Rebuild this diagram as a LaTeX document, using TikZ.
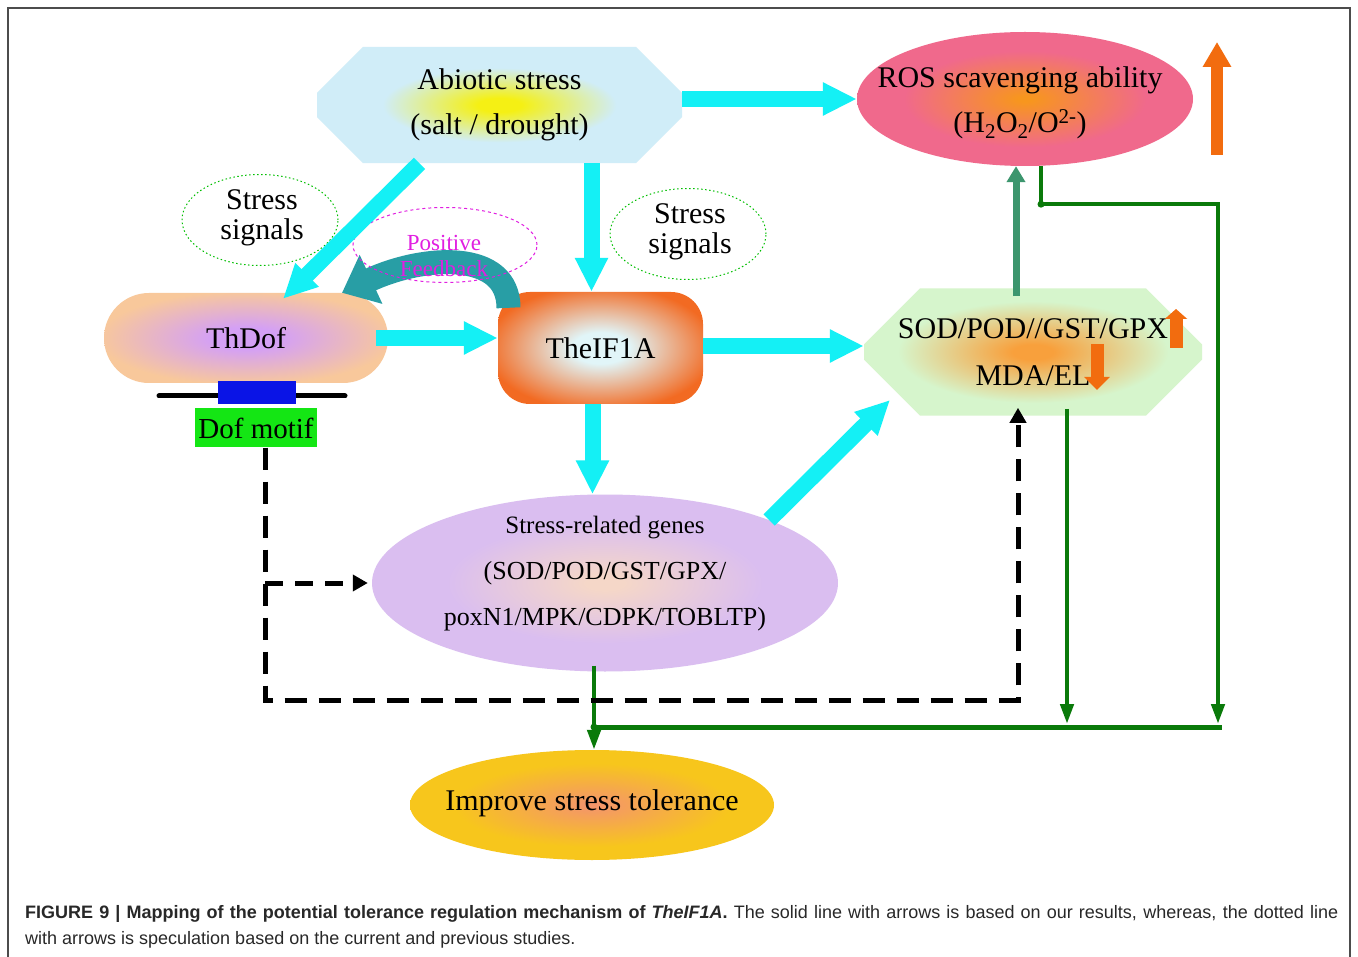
\documentclass[tikz,border=0pt]{standalone}
\usepackage{fontspec}
\setmainfont{Liberation Serif}
\newfontfamily\capfont{Liberation Sans}
\usetikzlibrary{shapes.geometric,shapes.misc,arrows.meta,calc}

\definecolor{cy}{RGB}{20,240,245}
\definecolor{abblue}{RGB}{208,237,248}
\definecolor{abyel}{RGB}{245,240,20}
\definecolor{rospink}{RGB}{240,105,140}
\definecolor{rosor}{RGB}{247,150,30}
\definecolor{peach}{RGB}{248,200,155}
\definecolor{lav}{RGB}{212,160,245}
\definecolor{ifor}{RGB}{242,106,34}
\definecolor{iflight}{RGB}{225,245,248}
\definecolor{sodgreen}{RGB}{214,245,204}
\definecolor{sodor}{RGB}{248,160,60}
\definecolor{genlav}{RGB}{218,190,240}
\definecolor{genpeach}{RGB}{245,215,200}
\definecolor{impyel}{RGB}{247,198,28}
\definecolor{impsal}{RGB}{244,150,105}
\definecolor{tealA}{RGB}{40,158,165}
\definecolor{dgreen}{RGB}{10,122,10}
\definecolor{sgreen}{RGB}{60,150,110}
\definecolor{orA}{RGB}{242,108,15}
\definecolor{motifgreen}{RGB}{20,230,20}
\definecolor{motifblue}{RGB}{10,20,230}
\definecolor{capgray}{RGB}{40,40,40}
\definecolor{pfmag}{RGB}{225,30,225}

\pgfdeclareradialshading{abshade}{\pgfpoint{0bp}{0bp}}{color(0bp)=(abyel); color(3bp)=(abyel); color(16bp)=(abblue); color(50bp)=(abblue)}
\pgfdeclareradialshading{rosshade}{\pgfpoint{0bp}{0bp}}{color(0bp)=(rosor); color(1bp)=(rosor); color(18bp)=(rospink); color(50bp)=(rospink)}
\pgfdeclareradialshading{dofshade}{\pgfpoint{0bp}{0bp}}{color(0bp)=(lav); color(6bp)=(lav); color(26bp)=(peach); color(50bp)=(peach)}
\pgfdeclareradialshading{ifshade}{\pgfpoint{0bp}{0bp}}{color(0bp)=(iflight); color(7bp)=(iflight); color(28bp)=(ifor); color(50bp)=(ifor)}
\pgfdeclareradialshading{sodshade}{\pgfpoint{0bp}{0bp}}{color(0bp)=(sodor); color(3bp)=(sodor); color(20bp)=(sodgreen); color(50bp)=(sodgreen)}
\pgfdeclareradialshading{genshade}{\pgfpoint{0bp}{0bp}}{color(0bp)=(genpeach); color(2bp)=(genpeach); color(17bp)=(genlav); color(50bp)=(genlav)}
\pgfdeclareradialshading{impshade}{\pgfpoint{0bp}{0bp}}{color(0bp)=(impsal); color(1bp)=(impsal); color(19bp)=(impyel); color(50bp)=(impyel)}

\begin{document}
\begin{tikzpicture}[x=1pt,y=-1pt,
  bigtxt/.style={font=\fontsize{30}{45}\selectfont, align=center, inner sep=0pt},
  sigell/.style={ellipse, draw=green!75!black, line width=1pt, dash pattern=on 1.5pt off 2.5pt, minimum width=156pt, minimum height=91pt, inner sep=0pt},
  sigtxt/.style={font=\fontsize{30}{30}\selectfont, align=center, inner sep=0pt},
  cyarr/.style={draw=cy, line width=16pt, -{Triangle[length=34pt,width=31pt]}},
  dgline/.style={draw=dgreen, line width=5pt},
  dgarr/.style={draw=dgreen, line width=4.5pt, -{Triangle[length=20pt,width=13pt]}},
  sgarr/.style={draw=sgreen, line width=7pt, -{Triangle[length=16pt,width=18pt]}},
  dsh/.style={draw=black, line width=5pt, dash pattern=on 22pt off 12pt},
  dtip/.style={-{Triangle[length=15pt,width=16pt]}}
]
\useasboundingbox (0,0) rectangle (1358,957);
\fill[white] (0,0) rectangle (1358,957);
\draw[gray!60!black, line width=1.2pt] (8,957) -- (8,8) -- (1350,8) -- (1350,957);

% ---- nodes ----
\node[chamfered rectangle, chamfered rectangle xsep=24pt, chamfered rectangle ysep=22pt,
      minimum width=365pt, minimum height=98pt, shade, shading=abshade, bigtxt] (ab) at (499.5,105)
      {Abiotic stress\\(salt / drought)};

\node[ellipse, minimum width=336pt, minimum height=134pt, inner sep=0pt, shade, shading=rosshade] (ros) at (1025,99) {};
\node[bigtxt] (rost) at (1020,103) {ROS scavenging ability\\(H\textsubscript{2}O\textsubscript{2}/O\textsuperscript{2-})};

\node[sigell] (sig1) at (260,220) {};
\node[sigtxt] (sig1t) at (262,218) {Stress\\signals};
\node[sigell] (sig2) at (688,234) {};
\node[sigtxt] (sig2t) at (690,232) {Stress\\signals};

\node[rounded rectangle, minimum width=284pt, minimum height=90pt, inner sep=0pt, shade, shading=dofshade, bigtxt] (thdof) at (246,338) {ThDof};

\node[rectangle, rounded corners=32pt, minimum width=205pt, minimum height=112pt, inner sep=0pt, shade, shading=ifshade, bigtxt] (ifa) at (600.5,348) {TheIF1A};

\node[chamfered rectangle, chamfered rectangle xsep=26pt, chamfered rectangle ysep=30pt,
      minimum width=338pt, minimum height=120pt, shade, shading=sodshade, font=\fontsize{30}{47}\selectfont, align=center, inner sep=0pt] (sod) at (1033,352)
      {SOD/POD//GST/GPX\\MDA/EL};

\node[ellipse, minimum width=466pt, minimum height=177pt, inner sep=0pt, shade, shading=genshade] (genes) at (605,583) {};
\node[align=center, inner sep=0pt, font=\fontsize{26}{46}\selectfont] (genest) at (605,574)
      {{\fontsize{25}{46}\selectfont Stress-related genes}\\(SOD/POD/GST/GPX/\\poxN1/MPK/CDPK/TOBLTP)};

\node[ellipse, minimum width=364pt, minimum height=110pt, inner sep=0pt, shade, shading=impshade] (imp) at (592,805) {};
\node[bigtxt] (impt) at (592,803) {Improve stress tolerance};

% DNA + motif
\draw[line width=5pt, line cap=round] (159,396) -- (345,396);
\node[fill=motifblue, minimum width=78pt, minimum height=23pt, inner sep=0pt] (blue) at (257,392.5) {};
\node[fill=motifgreen, minimum width=122pt, minimum height=39pt, inner sep=0pt, font=\fontsize{29}{30}\selectfont] (dof) at (256,428) {Dof motif};

% ---- positive feedback ----
\draw[line width=24pt, draw=tealA, -{Triangle[length=32pt,width=52pt]}]
  ([xshift=-92pt,yshift=-16pt]ifa.north) .. controls ++(0,-58) and ++(82,-38) .. ([xshift=96pt]thdof.north);
\node[ellipse, draw=pfmag, line width=1pt, dash pattern=on 3pt off 3pt, minimum width=184pt, minimum height=75pt, inner sep=0pt] (pf) at (445,245) {};
\node[text=pfmag, font=\fontsize{23}{26}\selectfont, align=center, inner sep=0pt] (pft) at (444,256) {Positive\\Feedback};

% ---- cyan arrows ----
\draw[cyarr] ([yshift=6pt]ab.east) -- ([yshift=6pt]ab.east -| ros.west);
\draw[cyarr] ([xshift=-80pt]ab.south) -- ([xshift=37pt,yshift=-6pt]thdof.north);
\draw[cyarr] ([xshift=92pt]ab.south) -- ([xshift=92pt]ab.south |- ifa.north);
\draw[cyarr] ([xshift=-12pt]thdof.east) -- (thdof.east -| ifa.west);
\draw[cyarr] ([yshift=2pt]ifa.east) -- ([yshift=2pt]ifa.east -| sod.west);
\draw[cyarr] ([xshift=-8pt]ifa.south) -- ([xshift=-8pt]ifa.south |- genes.north);
\draw[cyarr] (genes.21) -- ([xshift=-143pt,yshift=-48pt]sod.center);

% ---- orange arrows ----
\draw[draw=orA, line width=12pt, -{Triangle[length=25pt,width=27pt]}] (1217,155) -- (1217,42);
\draw[draw=orA, line width=13pt, -{Triangle[length=10pt,width=22pt]}] (1176,348) -- (1176,309);
\draw[draw=orA, line width=13pt, -{Triangle[length=13pt,width=25pt]}] (1097,344) -- (1097,390);

% ---- green connectors ----
\coordinate (busL) at (594,727);
\coordinate (busR) at (1222,727);
\draw[dgline] (busL) -- (busR);
\draw[sgarr] ([xshift=-17pt,yshift=-8pt]sod.north) -- ([xshift=-17pt]sod.north |- ros.south);
\draw[dgarr] ([xshift=16pt]ros.south) -- ++(0,38) coordinate (j1) -| ([xshift=-4pt,yshift=3pt]busR);
\fill[dgreen] (j1) circle (3.5pt);
\coordinate (b3) at ([xshift=34pt]sod.south |- busR);
\draw[dgarr] ([xshift=34pt,yshift=7pt]sod.south) -- ([yshift=3pt]b3);
\draw[dgarr] ([yshift=6pt]genes.south -| busL) -- (busL |- imp.north);
\fill[dgreen] (busL) circle (3.5pt);

% ---- dashed connectors ----
\coordinate (d0) at ([xshift=9pt]dof.south);
\coordinate (dbot) at (265,700);
\draw[dsh, dtip] (d0) -- (d0 |- dbot) -| ([xshift=-15pt,yshift=8pt]sod.south);
\draw[dsh, dtip, dash pattern=on 18pt off 12pt] (d0 |- genes.west) -- ([xshift=-4pt]genes.west);

% ---- caption ----
\node[anchor=base west, text width=1313pt, inner sep=0pt, align=justify, text=capgray,
      font=\capfont\fontsize{18}{26}\selectfont] (cap) at (25,918)
  {\textbf{FIGURE 9 | Mapping of the potential tolerance regulation mechanism of \textit{TheIF1A}.} The solid line with arrows is based on our results, whereas, the dotted line\linebreak with arrows is speculation based on the current and previous studies.};
\end{tikzpicture}
\end{document}
